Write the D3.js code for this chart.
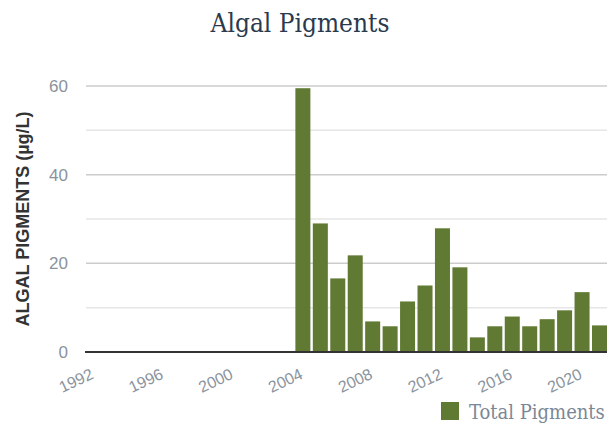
<!DOCTYPE html>
<html>
<head>
<meta charset="utf-8">
<title>Algal Pigments</title>
<script src="https://d3js.org/d3.v7.min.js"></script>
<style>
    body { margin: 0; background: #fff; }
    .tick text { font-family: "Liberation Sans", Arial, sans-serif; fill: #8a939d; }
    .serif { font-family: "DejaVu Serif Condensed", "DejaVu Serif", serif; font-stretch: condensed; }
</style>
</head>
<body>
<svg id="chart"></svg>
<script>
    // years shown on the axis and the measured values
    var years = d3.range(1992, 2022);
    var dataYears = [2004, 2005, 2006, 2007, 2008, 2009, 2010, 2011, 2012, 2013,
                     2014, 2015, 2016, 2017, 2018, 2019, 2020, 2021];
    var totalPigments = [59.5, 29.0, 16.6, 21.8, 6.9, 5.8, 11.4, 15.0, 27.9, 19.1,
                         3.3, 5.8, 8.0, 5.8, 7.4, 9.4, 13.5, 6.0];
    var tickYears = [1992, 1996, 2000, 2004, 2008, 2012, 2016, 2020];
    var majorTicks = [0, 20, 40, 60];
    var minorTicks = [10, 30, 50];

    var width = 609, height = 426;
    var margin = {top: 86, right: 2, bottom: 74, left: 86};

    var svg = d3.select("#chart").attr("width", width).attr("height", height);

    var x = d3.scaleBand()
        .domain(years)
        .range([margin.left, width - margin.right])
        .paddingInner(0.14);

    var y = d3.scaleLinear()
        .domain([0, 60])
        .range([height - margin.bottom, margin.top]);

    // grid
    svg.append("g").selectAll("line")
        .data(minorTicks)
        .enter().append("line")
        .attr("x1", margin.left).attr("x2", width - margin.right)
        .attr("y1", function (d) { return y(d); })
        .attr("y2", function (d) { return y(d); })
        .attr("stroke", "#e6e6e6").attr("stroke-width", 1.5);

    svg.append("g").selectAll("line")
        .data(majorTicks.slice(1))
        .enter().append("line")
        .attr("x1", margin.left).attr("x2", width - margin.right)
        .attr("y1", function (d) { return y(d); })
        .attr("y2", function (d) { return y(d); })
        .attr("stroke", "#cccccc").attr("stroke-width", 1.5);

    // bars
    svg.append("g").selectAll("rect")
        .data(dataYears)
        .enter().append("rect")
        .attr("x", function (d) { return x(d); })
        .attr("width", x.bandwidth())
        .attr("y", function (d, i) { return y(totalPigments[i]); })
        .attr("height", function (d, i) { return y(0) - y(totalPigments[i]); })
        .attr("fill", "#617a33");

    // y axis
    var yAxis = d3.axisLeft(y).tickValues(majorTicks).tickSize(0).tickPadding(18);
    var gy = svg.append("g")
        .attr("transform", "translate(" + margin.left + ",0)")
        .call(yAxis);
    gy.select(".domain").remove();
    gy.selectAll("text").style("font-size", "17px");

    // x axis
    var xAxis = d3.axisBottom(x).tickValues(tickYears).tickSize(0).tickPadding(0);
    var gx = svg.append("g")
        .attr("transform", "translate(0," + y(0) + ")")
        .call(xAxis);
    gx.select(".domain").remove();
    gx.selectAll("text")
        .style("font-size", "16px")
        .attr("text-anchor", "end")
        .attr("dy", null)
        .attr("y", 0)
        .attr("transform", "translate(1,26) rotate(-25)");

    // baseline
    svg.append("line")
        .attr("x1", margin.left - 1).attr("x2", width - margin.right)
        .attr("y1", y(0)).attr("y2", y(0))
        .attr("stroke", "#333").attr("stroke-width", 2);

    // title
    svg.append("text")
        .attr("class", "serif")
        .attr("x", 300).attr("y", 32)
        .attr("text-anchor", "middle")
        .style("font-size", "26px")
        .attr("fill", "#2a3a4e")
        .text("Algal Pigments");

    // y label
    svg.append("text")
        .attr("transform", "translate(29," + ((margin.top + y(0)) / 2) + ") rotate(-90)")
        .attr("text-anchor", "middle")
        .style("font-family", "'Liberation Sans', Arial, sans-serif")
        .style("font-size", "18px")
        .style("font-weight", "bold")
        .attr("fill", "#333")
        .text("ALGAL PIGMENTS (µg/L)");

    // legend
    var legend = svg.append("g").attr("transform", "translate(441,402)");
    legend.append("rect").attr("width", 18).attr("height", 18).attr("fill", "#617a33");
    legend.append("text")
        .attr("class", "serif")
        .attr("x", 28).attr("y", 17)
        .style("font-size", "20px")
        .attr("fill", "#7b8794")
        .text("Total Pigments");
</script>
</body>
</html>
